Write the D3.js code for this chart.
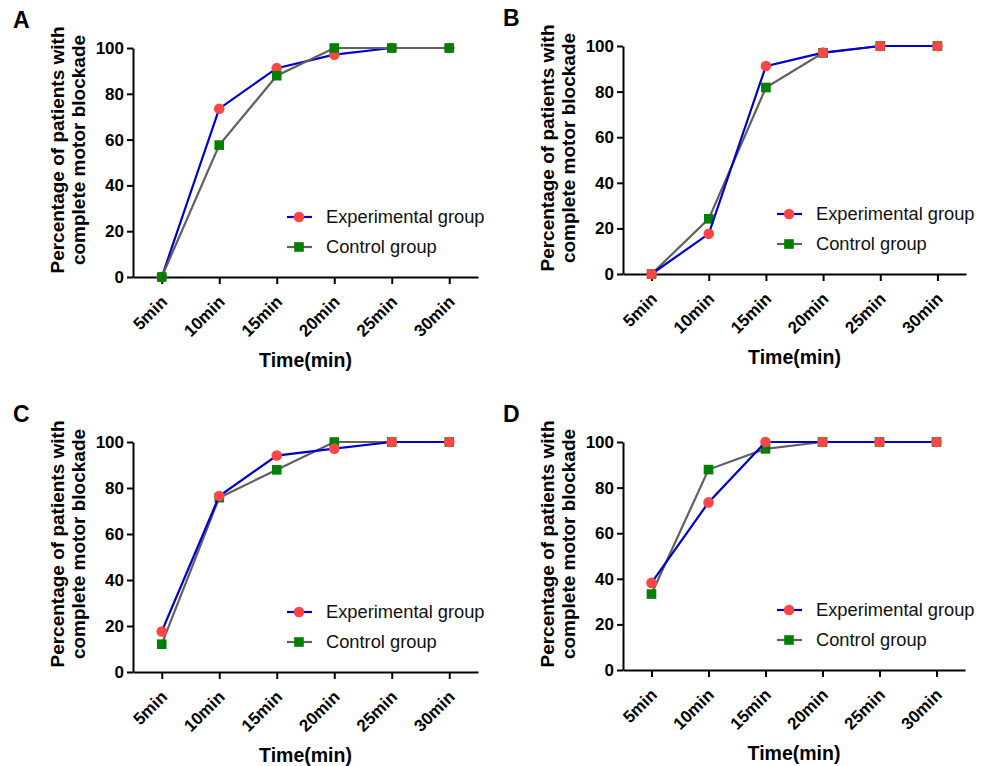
<!DOCTYPE html>
<html>
<head>
<meta charset="utf-8">
<script src="https://cdn.jsdelivr.net/npm/d3@7"></script>
<style>
  body { margin: 0; background: #fff; }
  svg { font-family: "Liberation Sans", Arial, sans-serif; }
</style>
</head>
<body>
<svg id="chart"></svg>
<script>
const categories = ['5min', '10min', '15min', '20min', '25min', '30min'];
const yTicks = [0, 20, 40, 60, 80, 100];
const seriesNames = ['Experimental group', 'Control group'];

const expA = [0, 73.5, 91.2, 97.1, 100, 100];
const ctrlA = [0, 57.6, 87.9, 100, 100, 100];
const expB = [0, 17.6, 91.2, 97.1, 100, 100];
const ctrlB = [0, 24.2, 81.8, 97.0, 100, 100];
const expC = [17.6, 76.5, 94.1, 97.1, 100, 100];
const ctrlC = [12.1, 75.8, 87.9, 100, 100, 100];
const expD = [38.2, 73.5, 100, 100, 100, 100];
const ctrlD = [33.3, 87.9, 97.0, 100, 100, 100];

const width = 989;
const height = 766;

// panel frames (axis origin left, top of y axis, size)
const panels = [
  { label: 'A', exp: expA, ctrl: ctrlA, x0: 133, top: 48, w: 345, h: 229, ctrlOnTop: true },
  { label: 'B', exp: expB, ctrl: ctrlB, x0: 623, top: 46, w: 343, h: 228, ctrlOnTop: false },
  { label: 'C', exp: expC, ctrl: ctrlC, x0: 133, top: 442, w: 345, h: 230, ctrlOnTop: false },
  { label: 'D', exp: expD, ctrl: ctrlD, x0: 623, top: 442, w: 342, h: 228, ctrlOnTop: false }
];

const style = {
  exp: { line: '#0000cc', fill: '#ff4646', shape: 'circle' },
  ctrl: { line: '#606060', fill: '#008000', shape: 'square' }
};

const svg = d3.select('#chart')
  .attr('width', width)
  .attr('height', height);

const drawMarker = (sel, shape, fill) => {
  if (shape === 'circle') {
    sel.append('circle').attr('r', 5.3).attr('fill', fill);
  } else {
    sel.append('rect')
      .attr('x', -4.8).attr('y', -4.8)
      .attr('width', 9.6).attr('height', 9.6)
      .attr('fill', fill);
  }
};

panels.forEach(p => {
  const g = svg.append('g');
  const bottom = p.top + p.h;

  const x = d3.scalePoint()
    .domain(categories)
    .range([p.x0, p.x0 + p.w])
    .padding(0.5);

  const y = d3.scaleLinear()
    .domain([0, 100])
    .range([bottom, p.top]);

  // axes
  const yAxis = g.append('g')
    .attr('transform', `translate(${p.x0},0)`)
    .call(d3.axisLeft(y).tickValues(yTicks).tickSize(6).tickSizeOuter(0).tickPadding(3));
  yAxis.selectAll('text')
    .attr('font-size', 17)
    .attr('font-weight', 'bold')
    .attr('fill', '#000')
    .attr('font-family', '"Liberation Sans", Arial, sans-serif');

  const xAxis = g.append('g')
    .attr('transform', `translate(0,${bottom})`)
    .call(d3.axisBottom(x).tickSize(7).tickSizeOuter(0));
  xAxis.selectAll('text')
    .attr('font-size', 17)
    .attr('font-weight', 'bold')
    .attr('fill', '#000')
    .attr('font-family', '"Liberation Sans", Arial, sans-serif')
    .attr('text-anchor', 'end')
    .attr('dy', 0)
    .attr('y', 0)
    .attr('transform', 'translate(6,26) rotate(-45)');

  g.selectAll('.domain, .tick line')
    .attr('stroke', '#000')
    .attr('stroke-width', 2);

  // panel letter
  g.append('text')
    .attr('x', p.x0 - 120)
    .attr('y', p.top - 20)
    .attr('font-size', 23)
    .attr('font-weight', 'bold')
    .text(p.label);

  // y title
  const cy = p.top + 102;
  const yTitle = g.append('text')
    .attr('transform', `translate(${p.x0 - 69},${cy}) rotate(-90)`)
    .attr('text-anchor', 'middle')
    .attr('font-size', 19)
    .attr('font-weight', 'bold');
  yTitle.append('tspan').attr('x', 0).attr('y', 0).text('Percentage of patients with');
  yTitle.append('tspan').attr('x', 0).attr('y', 21).text('complete motor blockade');

  // x title
  g.append('text')
    .attr('x', p.x0 + p.w / 2)
    .attr('y', bottom + 90)
    .attr('text-anchor', 'middle')
    .attr('font-size', 19.5)
    .attr('font-weight', 'bold')
    .text('Time(min)');

  // series
  const line = d3.line()
    .x((d, i) => x(categories[i]))
    .y(d => y(d));

  const drawSeries = (vals, st) => {
    const sg = g.append('g');
    sg.append('path')
      .datum(vals)
      .attr('d', line)
      .attr('fill', 'none')
      .attr('stroke', st.line)
      .attr('stroke-width', 2.2);
    sg.selectAll('g.pt')
      .data(vals)
      .join('g')
      .attr('class', 'pt')
      .attr('transform', (d, i) => `translate(${x(categories[i])},${y(d)})`)
      .each(function () { drawMarker(d3.select(this), st.shape, st.fill); });
  };

  if (p.ctrlOnTop) {
    drawSeries(p.exp, style.exp);
    drawSeries(p.ctrl, style.ctrl);
  } else {
    drawSeries(p.ctrl, style.ctrl);
    drawSeries(p.exp, style.exp);
  }

  // legend
  const legend = g.append('g');
  [style.exp, style.ctrl].forEach((st, i) => {
    const ly = bottom - 60 + i * 30;
    const lg = legend.append('g');
    lg.append('line')
      .attr('x1', p.x0 + 154).attr('x2', p.x0 + 179)
      .attr('y1', ly).attr('y2', ly)
      .attr('stroke', st.line)
      .attr('stroke-width', 2.2);
    const m = lg.append('g').attr('transform', `translate(${p.x0 + 166},${ly})`);
    drawMarker(m, st.shape, st.fill);
    lg.append('text')
      .attr('x', p.x0 + 193)
      .attr('y', ly)
      .attr('dy', '0.35em')
      .attr('font-size', 18.3)
      .attr('fill', '#111')
      .text(seriesNames[i]);
  });
});
</script>
</body>
</html>
